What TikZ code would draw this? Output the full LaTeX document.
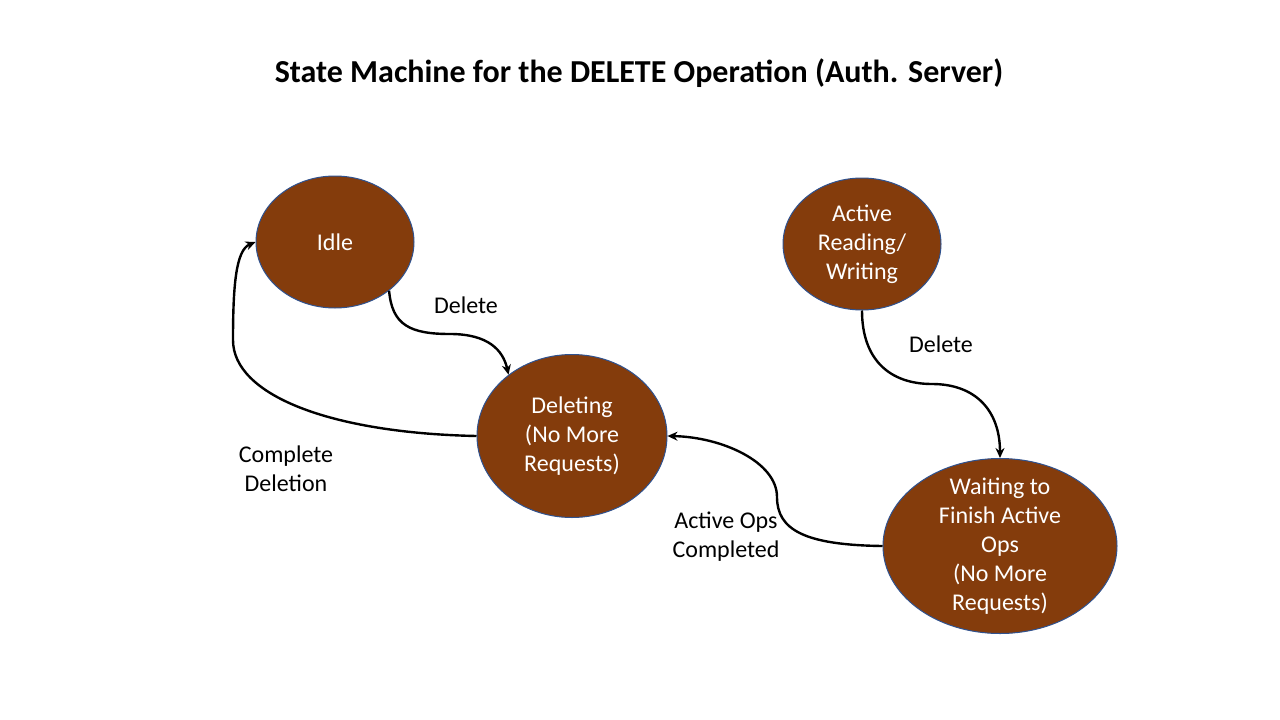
\documentclass[tikz,border=0pt]{standalone}
\usepackage{fontspec}
\setmainfont{Carlito}
\usetikzlibrary{shapes.geometric,arrows.meta}
\definecolor{statefill}{HTML}{843C0C}
\definecolor{stateline}{HTML}{2F528F}
\tikzset{
  state/.style={ellipse, fill=statefill, draw=stateline, line width=1pt, inner sep=0pt,
    text=white, align=center, font=\fontsize{24}{29}\selectfont},
  conn/.style={draw=black, line width=2.4pt, -{Stealth[length=10pt,width=9pt]}},
  lbl/.style={align=center, font=\fontsize{24}{29}\selectfont, text=black},
}
\begin{document}
\begin{tikzpicture}[x=1pt,y=-1pt]
\useasboundingbox (0,0) rectangle (1280,720);
\fill[white] (0,0) rectangle (1280,720);
\node[font=\bfseries\fontsize{32}{38}\selectfont] (title) at (639,73) {State Machine for the DELETE Operation (Auth. Server)};

\node[state, minimum width=158pt, minimum height=132pt] (idle) at (335,242) {Idle};
\node[state, minimum width=158pt, minimum height=132pt] (active) at (862,244) {Active\\Reading/\\Writing};
\node[state, minimum width=190pt, minimum height=163pt] (deleting) at (572,436) {Deleting\\(No More\\Requests)};
\node[state, minimum width=234pt, minimum height=175pt, inner ysep=-16pt] (waiting) at (1000,546) {Waiting to\\Finish Active\\Ops\\(No More\\Requests)};

\node[lbl] (l1) at (466,305) {Delete};
\node[lbl] (l2) at (941,344) {Delete};
\node[lbl] (l3) at (286,469) {Complete\\Deletion};
\node[lbl] (l4) at (726,537) {Active Ops\\Completed};

\coordinate (m1) at (450,334);
\coordinate (m2) at (233,340);
\coordinate (m3) at (932,384);
\coordinate (m4) at (777,497);

\draw[conn] (idle.-42) .. controls (392,325) and (410,334) .. (m1) .. controls (488,334) and (503,350) .. (deleting.136);
\draw[conn] (deleting.west) .. controls (330,433) and (233,395) .. (m2) .. controls (233,285) and (236,250) .. (idle.west);
\draw[conn] (active.south) .. controls (862,360) and (890,384) .. (m3) .. controls (975,384) and (1000,410) .. (waiting.north);
\draw[conn] (waiting.west) .. controls (805,545) and (777,530) .. (m4) .. controls (777,462) and (722,437) .. (deleting.east);
\end{tikzpicture}
\end{document}
